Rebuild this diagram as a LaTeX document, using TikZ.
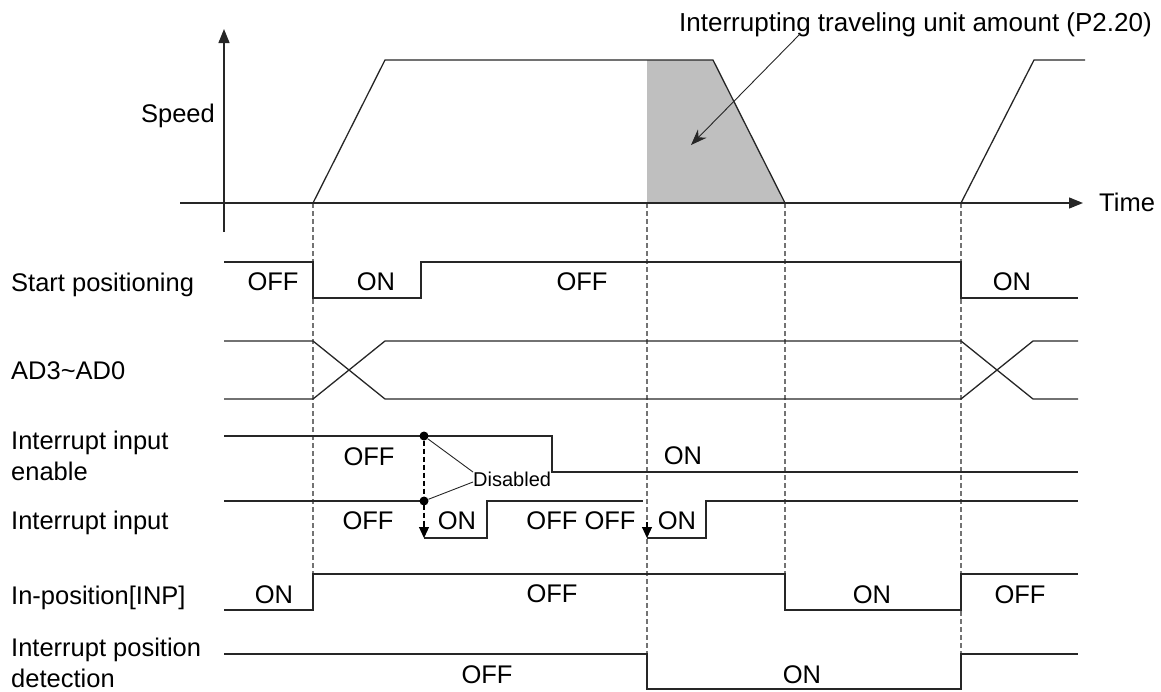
\documentclass[tikz,border=0pt]{standalone}
\usepackage{fontspec}
\setmainfont{Liberation Sans}
\usetikzlibrary{arrows.meta}
\begin{document}
\begin{tikzpicture}[x=1pt,y=-1pt,
  sig/.style={line width=1.3pt,black!85,line join=miter},
  thinline/.style={line width=0.9pt,black!85},
  vdash/.style={line width=1.1pt,black!55,dash pattern=on 5pt off 3pt},
  lbl/.style={inner sep=0pt,font=\fontsize{25.5pt}{31pt}\selectfont},
  lname/.style={lbl,anchor=base west,align=left},
  st/.style={lbl,anchor=center},
  dot/.style={circle,fill=black,inner sep=0pt,minimum size=9pt},
  axarrow/.style={-{Triangle[length=14pt,width=11pt]}},
  downarrow/.style={-{Triangle[length=11pt,width=10pt]}},
]
\useasboundingbox (0,0) rectangle (1161,691);

% shaded area
\fill[black!25] (647,203) -- (647,60) -- (713,60) -- (785,203) -- cycle;

% dashed time markers
\coordinate (m1t) at (313,203); \coordinate (m1b) at (313,574);
\coordinate (m2t) at (647,203); \coordinate (m2b) at (647,654);
\coordinate (m3t) at (785,203); \coordinate (m3b) at (785,574);
\coordinate (m4t) at (961,203); \coordinate (m4b) at (961,654);
\draw[vdash] (m1t) -- (m1b);
\draw[vdash] (m2t) -- (m2b);
\draw[vdash] (m3t) -- (m3b);
\draw[vdash] (m4t) -- (m4b);

% axes
\coordinate (yb) at (224,232); \coordinate (yt) at (224,29);
\coordinate (xl) at (180,203); \coordinate (xr) at (1083,203);
\draw[sig,axarrow] (yb) -- (yt);
\draw[sig,axarrow] (xl) -- (xr);

% speed profile
\draw[sig] (313,203) -- (385,60) -- (713,60) -- (785,203);
\draw[sig] (961,203) -- (1034,60) -- (1085,60);

% title and its arrow
\node[lname,font=\fontsize{26pt}{31pt}\selectfont] (ltitle) at (679,31) {Interrupting traveling unit amount (P2.20)};
\coordinate (asrc) at (800,34);
\coordinate (atip) at (691,145);
\draw[thinline,-{Stealth[length=16pt,width=12pt]}] (asrc) -- (atip);

% left labels
\node[lbl,anchor=base east] (lspeed) at (215,122) {Speed};
\node[lname] (ltime) at (1099,211) {Time};
\node[lname] (lstart) at (11,291) {Start positioning};
\node[lname] (lad) at (11,379) {AD3\textasciitilde AD0};
\node[lname] (lenable) at (11,480) {Interrupt input\\enable};
\node[lname] (linput) at (11,529) {Interrupt input};
\node[lname] (linp) at (11,604) {In-position[INP]};
\node[lname] (ldet) at (11,687) {Interrupt position\\detection};

% Start positioning
\draw[sig] (224,262) -- (313,262) -- (313,298) -- (421,298) -- (421,262) -- (961,262) -- (961,298) -- (1078,298);
\node[st] (sp1) at (273,282) {OFF};
\node[st] (sp2) at (376,282) {ON};
\node[st] (sp3) at (582,282) {OFF};
\node[st] (sp4) at (1012,282) {ON};

% AD3~AD0
\draw[sig] (224,341) -- (313,341) -- (385,399) -- (961,399) -- (1033,341) -- (1078,341);
\draw[sig] (224,399) -- (313,399) -- (385,341) -- (961,341) -- (1033,399) -- (1078,399);

% Interrupt input enable
\draw[sig] (224,436) -- (552,436) -- (552,472) -- (1078,472);
\node[st] (en1) at (369,457) {OFF};
\node[st] (en2) at (683,456) {ON};

% Interrupt input
\draw[sig] (224,501) -- (424,501);
\draw[sig] (424,538) -- (487,538) -- (487,501) -- (643,501);
\draw[sig] (647,538) -- (706,538) -- (706,501) -- (1078,501);
\node[st] (in1) at (368,521) {OFF};
\node[st] (in2) at (457,521) {ON};
\node[st] (in3) at (581,521) {OFF OFF};
\node[st] (in4) at (677,521) {ON};

% disabled marker
\node[dot] (d1) at (424,436) {};
\node[dot] (d2) at (424,501) {};
\coordinate (a1s) at (424,525);
\coordinate (a1) at (424,538);
\coordinate (a2s) at (647,522);
\coordinate (a2) at (647,538);
\draw[vdash,black] (d1) -- (a1s);
\draw[line width=1.1pt,black,downarrow] (a1s) -- (a1);
\draw[line width=1.1pt,black,downarrow] (a2s) -- (a2);
\node[lbl,font=\fontsize{20pt}{24pt}\selectfont,anchor=west] (dis) at (473,479) {Disabled};
\draw[thinline] (d1) -- ([yshift=7pt]dis.west);
\draw[thinline] (d2) -- ([yshift=-3pt]dis.west);

% In-position
\draw[sig] (224,610) -- (313,610) -- (313,574) -- (785,574) -- (785,610) -- (961,610) -- (961,574) -- (1078,574);
\node[st] (ip1) at (274,595) {ON};
\node[st] (ip2) at (552,594) {OFF};
\node[st] (ip3) at (872,595) {ON};
\node[st] (ip4) at (1020,595) {OFF};

% Interrupt position detection
\draw[sig] (224,654) -- (647,654) -- (647,689) -- (961,689) -- (961,654) -- (1078,654);
\node[st] (ipd1) at (487,675) {OFF};
\node[st] (ipd2) at (802,675) {ON};
\end{tikzpicture}
\end{document}
